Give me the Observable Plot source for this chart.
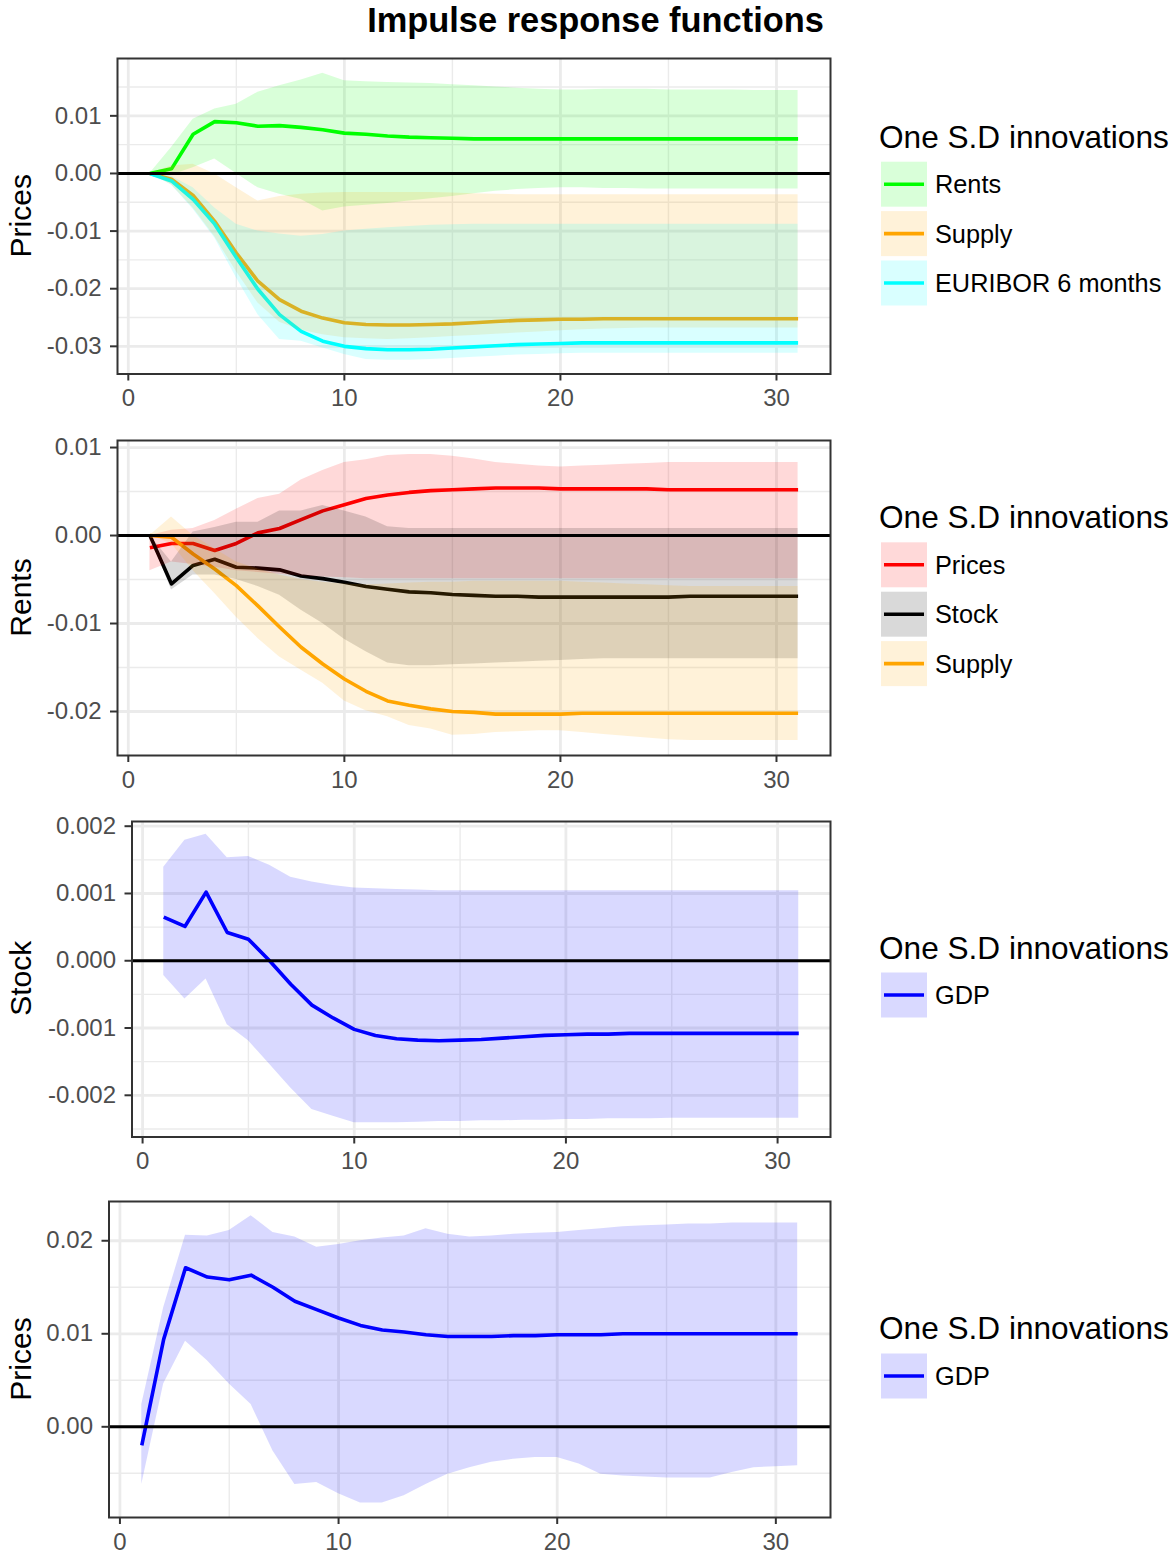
<!DOCTYPE html>
<html><head><meta charset="utf-8">
<script src="https://cdn.jsdelivr.net/npm/d3@7"></script>
<script src="https://cdn.jsdelivr.net/npm/@observablehq/plot@0.6"></script>
<style>
body{margin:0;background:#fff;}
#root{position:relative;width:1176px;height:1551px;background:#fff;font-family:"Liberation Sans",Arial,sans-serif;}
.panel{position:absolute;left:0;}
#overlay{position:absolute;left:0;top:0;}
</style></head><body><div id="root"></div>
<script>
// ---------- DATA (horizons 1..31) ----------
const horizons = d3.range(1, 32);

// Panel 1: response of Prices
const p1RentsLine = [0,0.0008,0.0068,0.0090,0.0088,0.0082,0.0083,0.0080,0.0076,0.0070,0.0068,0.0065,0.0063,0.0062,0.0061,0.0060,0.0060,0.0060,0.0060,0.0060,0.0060,0.0060,0.0060,0.0060,0.0060,0.0060,0.0060,0.0060,0.0060,0.0060,0.0060];
const p1RentsLo = [0,-0.0003,0.0010,0.0025,0.0000,-0.0025,-0.0036,-0.0045,-0.0065,-0.0058,-0.0055,-0.0052,-0.0048,-0.0044,-0.0040,-0.0035,-0.0031,-0.0028,-0.0026,-0.0025,-0.0025,-0.0026,-0.0026,-0.0027,-0.0027,-0.0027,-0.0027,-0.0027,-0.0027,-0.0027,-0.0027];
const p1RentsHi = [0,0.0045,0.0094,0.0112,0.0120,0.0141,0.0152,0.0162,0.0174,0.0161,0.0159,0.0158,0.0157,0.0156,0.0154,0.0152,0.0150,0.0148,0.0146,0.0145,0.0145,0.0146,0.0146,0.0146,0.0145,0.0145,0.0145,0.0145,0.0144,0.0144,0.0144];
const p1SupplyLine = [0,-0.0010,-0.0038,-0.0083,-0.0138,-0.0187,-0.0219,-0.0239,-0.0251,-0.0259,-0.0262,-0.0263,-0.0263,-0.0262,-0.0261,-0.0259,-0.0257,-0.0255,-0.0254,-0.0253,-0.0253,-0.0252,-0.0252,-0.0252,-0.0252,-0.0252,-0.0252,-0.0252,-0.0252,-0.0252,-0.0252];
const p1SupplyLo = [0,-0.0020,-0.0060,-0.0110,-0.0170,-0.0225,-0.0258,-0.0272,-0.0280,-0.0285,-0.0287,-0.0288,-0.0287,-0.0285,-0.0283,-0.0281,-0.0279,-0.0277,-0.0275,-0.0273,-0.0271,-0.0270,-0.0269,-0.0268,-0.0268,-0.0268,-0.0268,-0.0268,-0.0268,-0.0268,-0.0268];
const p1SupplyHi = [0,0.0013,0.0016,-0.0001,-0.0025,-0.0048,-0.0040,-0.0036,-0.0034,-0.0033,-0.0033,-0.0033,-0.0033,-0.0033,-0.0034,-0.0035,-0.0036,-0.0037,-0.0037,-0.0037,-0.0037,-0.0037,-0.0037,-0.0037,-0.0037,-0.0037,-0.0037,-0.0037,-0.0037,-0.0037,-0.0037];
const p1EuriborLine = [0,-0.0013,-0.0045,-0.0088,-0.0146,-0.0201,-0.0245,-0.0274,-0.0291,-0.0300,-0.0304,-0.0306,-0.0306,-0.0305,-0.0303,-0.0301,-0.0299,-0.0297,-0.0296,-0.0295,-0.0294,-0.0294,-0.0294,-0.0294,-0.0294,-0.0294,-0.0294,-0.0294,-0.0294,-0.0294,-0.0294];
const p1EuriborLo = [0,-0.0020,-0.0062,-0.0112,-0.0181,-0.0245,-0.0288,-0.0291,-0.0303,-0.0314,-0.0323,-0.0324,-0.0324,-0.0323,-0.0321,-0.0319,-0.0317,-0.0315,-0.0314,-0.0313,-0.0312,-0.0312,-0.0312,-0.0312,-0.0312,-0.0312,-0.0312,-0.0312,-0.0312,-0.0312,-0.0312];
const p1EuriborHi = [0,-0.0005,-0.0025,-0.0060,-0.0088,-0.0100,-0.0105,-0.0109,-0.0106,-0.0100,-0.0097,-0.0094,-0.0092,-0.0090,-0.0089,-0.0088,-0.0088,-0.0088,-0.0088,-0.0088,-0.0088,-0.0088,-0.0088,-0.0088,-0.0088,-0.0088,-0.0088,-0.0088,-0.0088,-0.0088,-0.0088];

// Panel 2: response of Rents
const p2PricesLine = [-0.0014,-0.0009,-0.0009,-0.0017,-0.0009,0.0003,0.0008,0.0018,0.0028,0.0035,0.0042,0.0046,0.0049,0.0051,0.0052,0.0053,0.0054,0.0054,0.0054,0.0053,0.0053,0.0053,0.0053,0.0053,0.0052,0.0052,0.0052,0.0052,0.0052,0.0052,0.0052];
const p2PricesLo = [-0.0040,-0.0030,-0.0033,-0.0036,-0.0040,-0.0042,-0.0044,-0.0046,-0.0047,-0.0048,-0.0049,-0.0049,-0.0049,-0.0049,-0.0049,-0.0049,-0.0049,-0.0049,-0.0049,-0.0049,-0.0049,-0.0049,-0.0049,-0.0049,-0.0049,-0.0049,-0.0049,-0.0049,-0.0049,-0.0049,-0.0049];
const p2PricesHi = [0.0000,0.0006,0.0008,0.0017,0.0030,0.0042,0.0047,0.0063,0.0074,0.0083,0.0086,0.0091,0.0092,0.0092,0.0090,0.0087,0.0083,0.0081,0.0079,0.0078,0.0079,0.0080,0.0081,0.0082,0.0083,0.0083,0.0083,0.0083,0.0083,0.0083,0.0083];
const p2StockLine = [0,-0.0055,-0.0034,-0.0027,-0.0036,-0.0037,-0.0039,-0.0046,-0.0049,-0.0053,-0.0058,-0.0061,-0.0064,-0.0065,-0.0067,-0.0068,-0.0069,-0.0069,-0.0070,-0.0070,-0.0070,-0.0070,-0.0070,-0.0070,-0.0070,-0.0069,-0.0069,-0.0069,-0.0069,-0.0069,-0.0069];
const p2StockLo = [0,-0.0062,-0.0045,-0.0045,-0.0050,-0.0058,-0.0068,-0.0085,-0.0100,-0.0118,-0.0132,-0.0145,-0.0148,-0.0148,-0.0147,-0.0146,-0.0145,-0.0144,-0.0143,-0.0142,-0.0141,-0.0140,-0.0140,-0.0140,-0.0140,-0.0140,-0.0140,-0.0140,-0.0140,-0.0140,-0.0140];
const p2StockHi = [0,-0.0030,0.0004,0.0009,0.0015,0.0015,0.0028,0.0028,0.0034,0.0028,0.0021,0.0010,0.0008,0.0008,0.0008,0.0008,0.0008,0.0008,0.0008,0.0008,0.0008,0.0008,0.0008,0.0008,0.0008,0.0008,0.0008,0.0008,0.0008,0.0008,0.0008];
const p2SupplyLine = [0,-0.0002,-0.0021,-0.0038,-0.0057,-0.0080,-0.0104,-0.0127,-0.0146,-0.0163,-0.0177,-0.0188,-0.0193,-0.0197,-0.0200,-0.0201,-0.0203,-0.0203,-0.0203,-0.0203,-0.0202,-0.0202,-0.0202,-0.0202,-0.0202,-0.0202,-0.0202,-0.0202,-0.0202,-0.0202,-0.0202];
const p2SupplyLo = [0,-0.0009,-0.0040,-0.0066,-0.0093,-0.0117,-0.0138,-0.0153,-0.0168,-0.0188,-0.0199,-0.0206,-0.0216,-0.0220,-0.0227,-0.0226,-0.0224,-0.0223,-0.0222,-0.0222,-0.0224,-0.0226,-0.0228,-0.0230,-0.0232,-0.0233,-0.0233,-0.0233,-0.0233,-0.0233,-0.0233];
const p2SupplyHi = [0,0.0021,0.0000,-0.0015,-0.0030,-0.0038,-0.0045,-0.0050,-0.0053,-0.0055,-0.0056,-0.0055,-0.0054,-0.0053,-0.0053,-0.0052,-0.0052,-0.0052,-0.0052,-0.0052,-0.0053,-0.0054,-0.0055,-0.0056,-0.0057,-0.0058,-0.0058,-0.0058,-0.0058,-0.0058,-0.0058];

// Panel 3: response of Stock
const p3GdpLine = [0.00065,0.00051,0.00102,0.00042,0.00032,0.00000,-0.00035,-0.00066,-0.00085,-0.00102,-0.00111,-0.00116,-0.00118,-0.00119,-0.00118,-0.00117,-0.00115,-0.00113,-0.00111,-0.00110,-0.00109,-0.00109,-0.00108,-0.00108,-0.00108,-0.00108,-0.00108,-0.00108,-0.00108,-0.00108,-0.00108];
const p3GdpLo = [-0.00022,-0.00057,-0.00027,-0.00095,-0.00119,-0.00154,-0.00189,-0.00221,-0.00231,-0.00241,-0.00241,-0.00241,-0.00240,-0.00239,-0.00239,-0.00238,-0.00238,-0.00237,-0.00237,-0.00236,-0.00236,-0.00235,-0.00235,-0.00235,-0.00234,-0.00234,-0.00234,-0.00234,-0.00234,-0.00234,-0.00234];
const p3GdpHi = [0.00139,0.00179,0.00188,0.00153,0.00155,0.00142,0.00124,0.00117,0.00112,0.00108,0.00107,0.00106,0.00105,0.00104,0.00104,0.00104,0.00104,0.00104,0.00104,0.00104,0.00104,0.00104,0.00104,0.00104,0.00104,0.00104,0.00104,0.00104,0.00104,0.00104,0.00104];

// Panel 4: response of Prices
const p4GdpLine = [-0.0020,0.0094,0.0171,0.0161,0.0158,0.0163,0.0150,0.0135,0.0126,0.0117,0.0109,0.0104,0.0102,0.0099,0.0097,0.0097,0.0097,0.0098,0.0098,0.0099,0.0099,0.0099,0.0100,0.0100,0.0100,0.0100,0.0100,0.0100,0.0100,0.0100,0.0100];
const p4GdpLo = [-0.0062,0.0046,0.0092,0.0071,0.0046,0.0024,-0.0026,-0.0062,-0.0060,-0.0072,-0.0082,-0.0082,-0.0074,-0.0062,-0.0051,-0.0044,-0.0038,-0.0035,-0.0033,-0.0033,-0.0040,-0.0051,-0.0053,-0.0054,-0.0055,-0.0055,-0.0055,-0.0049,-0.0044,-0.0043,-0.0042];
const p4GdpHi = [0.0024,0.0128,0.0206,0.0205,0.0211,0.0227,0.0209,0.0204,0.0193,0.0196,0.0200,0.0203,0.0205,0.0213,0.0207,0.0204,0.0205,0.0207,0.0208,0.0209,0.0211,0.0213,0.0215,0.0216,0.0217,0.0218,0.0218,0.0219,0.0219,0.0219,0.0219];

// Axis ticks
const xTicks = [0, 10, 20, 30];
const xMinorTicks = [5, 15, 25];
const p1YTicks = [0.01, 0, -0.01, -0.02, -0.03];
const p1YMinor = [0.015, 0.005, -0.005, -0.015, -0.025];
const p2YTicks = [0.01, 0, -0.01, -0.02];
const p2YMinor = [0.005, -0.005, -0.015];
const p3YTicks = [0.002, 0.001, 0, -0.001, -0.002];
const p3YMinor = [0.0015, 0.0005, -0.0005, -0.0015, -0.0025];
const p4YTicks = [0.02, 0.01, 0];
const p4YMinor = [0.015, 0.005, -0.005];

const titleText = "Impulse response functions";
const legendTitle = "One S.D innovations";

// ---------- BUILD ----------
const FONT = "'Liberation Sans', Arial, Helvetica, sans-serif";
const root = document.getElementById("root");

function mk(name, color, line, lo, hi) {
  return {name, color, rows: horizons.map((h, i) => ({x: h, v: line[i], lo: lo[i], hi: hi[i]}))};
}

const panels = [
  {ytitle: "Prices", left: 117, top: 58, h: 315.5, yDomain: [-0.0348, 0.01995], yTicks: p1YTicks, yMinor: p1YMinor, fmt: d => d.toFixed(2),
   legendCapTop: 126.7, boxTop: 161.7,
   series: [mk("Rents", "#00ff00", p1RentsLine, p1RentsLo, p1RentsHi),
            mk("Supply", "#ffa500", p1SupplyLine, p1SupplyLo, p1SupplyHi),
            mk("EURIBOR 6 months", "#00ffff", p1EuriborLine, p1EuriborLo, p1EuriborHi)]},
  {ytitle: "Rents", left: 117, top: 440, h: 315, yDomain: [-0.0250, 0.0108], yTicks: p2YTicks, yMinor: p2YMinor, fmt: d => d.toFixed(2),
   legendCapTop: 506.7, boxTop: 542.3,
   series: [mk("Prices", "#ff0000", p2PricesLine, p2PricesLo, p2PricesHi),
            mk("Stock", "#000000", p2StockLine, p2StockLo, p2StockHi),
            mk("Supply", "#ffa500", p2SupplyLine, p2SupplyLo, p2SupplyHi)]},
  {ytitle: "Stock", left: 131.5, top: 820.5, h: 315.5, yDomain: [-0.00262, 0.00207], yTicks: p3YTicks, yMinor: p3YMinor, fmt: d => d.toFixed(3),
   legendCapTop: 938.3, boxTop: 972.5,
   series: [mk("GDP", "#0000ff", p3GdpLine, p3GdpLo, p3GdpHi)]},
  {ytitle: "Prices", left: 108.5, top: 1201, h: 316, yDomain: [-0.00975, 0.02422], yTicks: p4YTicks, yMinor: p4YMinor, fmt: d => d.toFixed(2),
   legendCapTop: 1318.3, boxTop: 1353.5,
   series: [mk("GDP", "#0000ff", p4GdpLine, p4GdpLo, p4GdpHi)]}
];

const W = 840, MT = 12, MB = 50, RIGHT = 830;

for (const p of panels) {
  const chart = Plot.plot({
    width: W,
    height: p.h + MT + MB,
    marginLeft: p.left,
    marginRight: W - RIGHT,
    marginTop: MT,
    marginBottom: MB,
    style: {fontFamily: FONT, background: "transparent", overflow: "visible"},
    x: {domain: [-0.5, 32.5]},
    y: {domain: p.yDomain},
    marks: [
      Plot.ruleX(xMinorTicks, {stroke: "#ebebeb", strokeWidth: 1.4}),
      Plot.ruleY(p.yMinor, {stroke: "#ebebeb", strokeWidth: 1.4}),
      Plot.ruleX(xTicks, {stroke: "#ebebeb", strokeWidth: 2.8}),
      Plot.ruleY(p.yTicks, {stroke: "#ebebeb", strokeWidth: 2.8}),
      ...p.series.map(s => Plot.line(s.rows, {x: "x", y: "v", stroke: s.color, strokeWidth: 3.6, strokeLinecap: "butt"})),
      ...p.series.map(s => Plot.areaY(s.rows, {x: "x", y1: "lo", y2: "hi", fill: s.color, fillOpacity: 0.15})),
      Plot.ruleY([0], {stroke: "#000000", strokeWidth: 3}),
      Plot.frame({stroke: "#333333", strokeWidth: 2}),
      Plot.axisX({ticks: xTicks, tickFormat: d => String(d), tickSize: 7, tickPadding: 8, fontSize: 24, color: "#4d4d4d", stroke: "#333333", strokeWidth: 2, label: null}),
      Plot.axisY({ticks: p.yTicks, tickFormat: p.fmt, tickSize: 7, tickPadding: 9, fontSize: 24, color: "#4d4d4d", stroke: "#333333", strokeWidth: 2, label: null})
    ]
  });
  const wrap = document.createElement("div");
  wrap.className = "panel";
  wrap.style.top = (p.top - MT) + "px";
  wrap.appendChild(chart);
  root.appendChild(wrap);
}

// overlay with text and legends
const svg = d3.select(root).append("svg").attr("id", "overlay")
  .attr("width", 1176).attr("height", 1551).style("font-family", FONT).style("overflow", "visible");

svg.append("text").attr("x", 595.5).attr("y", 32).attr("text-anchor", "middle")
  .attr("font-size", 34.4).attr("font-weight", "bold").attr("fill", "#000").text(titleText);

for (const p of panels) {
  const cy = p.top + p.h / 2;
  svg.append("text").attr("transform", `translate(31,${cy}) rotate(-90)`).attr("text-anchor", "middle")
    .attr("font-size", 30).attr("fill", "#000").text(p.ytitle);
  svg.append("text").attr("x", 879).attr("y", p.legendCapTop + 21).attr("font-size", 31.6).attr("fill", "#000").text(legendTitle);
  p.series.forEach((s, i) => {
    const y0 = p.boxTop + i * 49.4;
    svg.append("rect").attr("x", 881).attr("y", y0).attr("width", 46).attr("height", 45)
      .attr("fill", s.color).attr("fill-opacity", 0.15);
    svg.append("line").attr("x1", 884).attr("x2", 924).attr("y1", y0 + 22.5).attr("y2", y0 + 22.5)
      .attr("stroke", s.color).attr("stroke-width", 3.6);
    svg.append("text").attr("x", 935).attr("y", y0 + 22.5 + 9).attr("font-size", 25.3).attr("fill", "#000").text(s.name);
  });
}
</script></body></html>
